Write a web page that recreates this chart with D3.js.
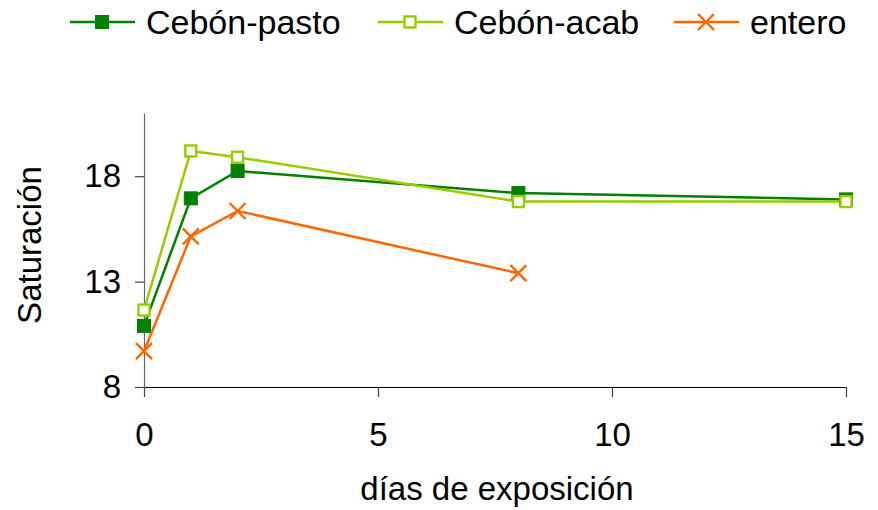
<!DOCTYPE html>
<html><head><meta charset="utf-8">
<script src="https://cdn.jsdelivr.net/npm/d3@7"></script>
<style>body{margin:0;background:#fff}svg{display:block}text{font-family:"Liberation Sans",Arial,sans-serif;fill:#000}</style>
</head><body><svg id="c" width="878" height="510"></svg>
<script>
const dias = [0, 1, 2, 8, 15];
const cebonPasto = [10.9, 16.95, 18.25, 17.2, 16.9];
const cebonAcab = [11.65, 19.2, 18.9, 16.8, 16.8];
const entero = [9.7, 15.15, 16.35, 13.4, null];
const xTicks = [0, 5, 10, 15];
const yTicks = [8, 13, 18];
const seriesNames = ["Cebón-pasto", "Cebón-acab", "entero"];
const xTitle = "días de exposición";
const yTitle = "Saturación";

const svg = d3.select("#c");
const x = d3.scaleLinear().domain([0, 15]).range([144, 846]);
const y = d3.scaleLinear().domain([8, 21]).range([387, 113]);
const fs = 33;

// axes
const xa = svg.append("g").attr("transform", `translate(0,${y(8)})`)
  .call(d3.axisBottom(x).tickValues(xTicks).tickSize(10).tickPadding(26).tickSizeOuter(0));
xa.select(".domain").attr("stroke", "#000").attr("stroke-width", 1.2);
xa.selectAll(".tick line").attr("stroke", "#444").attr("stroke-width", 1.2);
xa.selectAll("text").style("font-size", fs + "px").style("font-family", "Liberation Sans, Arial, sans-serif");

const ya = svg.append("g").attr("transform", `translate(${x(0)},0)`)
  .call(d3.axisLeft(y).tickValues(yTicks).tickSize(9).tickPadding(14).tickSizeOuter(0));
ya.select(".domain").attr("stroke", "#666").attr("stroke-width", 1.2);
ya.selectAll(".tick line").attr("stroke", "#444").attr("stroke-width", 1.2);
ya.selectAll("text").style("font-size", fs + "px").style("font-family", "Liberation Sans, Arial, sans-serif");

svg.append("text").attr("x", (x(0) + x(15)) / 2 + 2).attr("y", 500).attr("text-anchor", "middle")
  .style("font-size", fs + "px").text(xTitle);
svg.append("text").attr("transform", `translate(41,245) rotate(-90)`)
  .attr("text-anchor", "middle").style("font-size", fs + "px").text(yTitle);

const series = [
  {name: seriesNames[0], vals: cebonPasto, color: "#008000", marker: "fill"},
  {name: seriesNames[1], vals: cebonAcab, color: "#99CC00", marker: "open"},
  {name: seriesNames[2], vals: entero, color: "#FF6600", marker: "x"}
];

function drawMarker(g, type, color, cx, cy) {
  if (type === "fill") {
    g.append("rect").attr("x", cx - 6.5).attr("y", cy - 6.5).attr("width", 13).attr("height", 13)
      .attr("fill", color).attr("stroke", color).attr("stroke-width", 1);
  } else if (type === "open") {
    g.append("rect").attr("x", cx - 5.5).attr("y", cy - 5.5).attr("width", 11).attr("height", 11)
      .attr("fill", "#fff").attr("stroke", color).attr("stroke-width", 2.4);
  } else {
    const s = 8;
    g.append("path").attr("d", `M${cx - s},${cy - s}L${cx + s},${cy + s}M${cx - s},${cy + s}L${cx + s},${cy - s}`)
      .attr("stroke", color).attr("stroke-width", 2.4).attr("fill", "none");
  }
}

const line = d3.line().defined(d => d[1] != null).x(d => x(d[0])).y(d => y(d[1]));
series.forEach(s => {
  const pts = dias.map((d, i) => [d, s.vals[i]]);
  svg.append("path").datum(pts).attr("d", line).attr("fill", "none")
    .attr("stroke", s.color).attr("stroke-width", 2.5);
});
series.forEach(s => {
  const g = svg.append("g");
  dias.forEach((d, i) => { if (s.vals[i] != null) drawMarker(g, s.marker, s.color, x(d), y(s.vals[i])); });
});

// legend
const legX = [70, 378, 674];
series.forEach((s, i) => {
  const g = svg.append("g");
  const ly = 22;
  g.append("line").attr("x1", legX[i]).attr("x2", legX[i] + 65).attr("y1", ly).attr("y2", ly)
    .attr("stroke", s.color).attr("stroke-width", 2.5);
  drawMarker(g, s.marker, s.color, legX[i] + 32, ly);
  g.append("text").attr("x", legX[i] + 76).attr("y", ly + 12).style("font-size", "34px").text(s.name);
});
</script></body></html>
